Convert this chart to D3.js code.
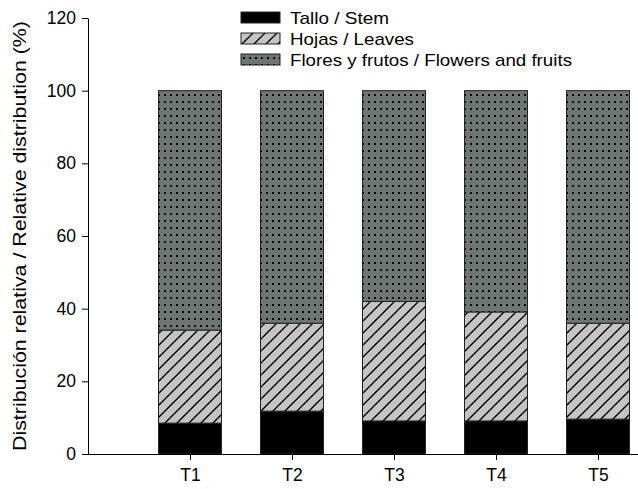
<!DOCTYPE html>
<html>
<head>
<meta charset="utf-8">
<script src="https://cdn.jsdelivr.net/npm/d3@7"></script>
<style>
  body { margin: 0; background: #fff; }
  svg { font-family: "Liberation Sans", Arial, sans-serif; }
</style>
</head>
<body>
<svg id="chart" width="638" height="489"></svg>
<script>
// data (percent)
const treatments = ["T1", "T2", "T3", "T4", "T5"];
const stem = [8.5, 11.8, 9.1, 9.1, 9.6];
const leaves = [25.6, 24.2, 32.9, 30.0, 26.4];
const flowers = [65.9, 64.0, 58.0, 60.9, 64.0];
const yTicks = [0, 20, 40, 60, 80, 100, 120];
const seriesNames = ["Tallo / Stem", "Hojas / Leaves", "Flores y frutos / Flowers and fruits"];

const svg = d3.select("#chart");

// patterns
const defs = svg.append("defs");
const hatch = defs.append("pattern")
    .attr("id", "hatch")
    .attr("patternUnits", "userSpaceOnUse")
    .attr("width", 12).attr("height", 12);
hatch.append("rect").attr("width", 12).attr("height", 12).attr("fill", "#c4c4c4");
hatch.append("path")
    .attr("d", "M-3,3 L3,-3 M0,12 L12,0 M9,15 L15,9")
    .attr("stroke", "#000").attr("stroke-width", 1.4);

const dots = defs.append("pattern")
    .attr("id", "dots")
    .attr("patternUnits", "userSpaceOnUse")
    .attr("width", 6).attr("height", 7);
dots.append("rect").attr("width", 6).attr("height", 7).attr("fill", "#6f7573");
dots.append("rect").attr("x", 2).attr("y", 3).attr("width", 2).attr("height", 2).attr("fill", "#000");

const fills = ["#000", "url(#hatch)", "url(#dots)"];

// scales
const y = d3.scaleLinear().domain([0, 120]).range([454, 18]);
const x = d3.scaleLinear().domain([0, 1]).range([88, 190]);
const barW = 63;

// stacked data
const rows = treatments.map((t, i) => ({ t: t, i: i, stem: stem[i], leaves: leaves[i], flowers: flowers[i] }));
const stack = d3.stack().keys(["stem", "leaves", "flowers"])(rows);

svg.append("g")
  .selectAll("g")
  .data(stack)
  .join("g")
    .attr("fill", (d, k) => fills[k])
  .selectAll("rect")
  .data(d => d)
  .join("rect")
    .attr("x", d => x(d.data.i + 1) - barW / 2)
    .attr("y", d => y(d[1]))
    .attr("width", barW)
    .attr("height", d => y(d[0]) - y(d[1]))
    .attr("stroke", "#222")
    .attr("stroke-width", 1);

// axes
const yAxis = svg.append("g")
    .attr("transform", "translate(88,0)")
    .call(d3.axisLeft(y).tickValues(yTicks).tickSize(6).tickPadding(6).tickSizeOuter(0));
yAxis.selectAll("text").attr("font-size", 17.5).attr("fill", "#000");

const xAxis = svg.append("g")
    .attr("transform", "translate(0,454)")
    .call(d3.axisBottom(x).tickValues([1, 2, 3, 4, 5])
        .tickFormat(d => treatments[d - 1]).tickSize(6).tickPadding(9).tickSizeOuter(0));
xAxis.select(".domain").attr("d", "M88,0.5H638");
xAxis.selectAll("text").attr("font-size", 17.5).attr("fill", "#000");

svg.selectAll(".domain, .tick line").attr("stroke", "#000");

// y label
svg.append("text")
    .attr("transform", "translate(26,236) rotate(-90)")
    .attr("text-anchor", "middle")
    .attr("font-size", 18.5)
    .attr("textLength", 430)
    .attr("lengthAdjust", "spacingAndGlyphs")
    .text("Distribución relativa / Relative distribution (%)");

// legend
const legendWidths = [99, 124, 282];
const legend = svg.append("g")
  .selectAll("g")
  .data(seriesNames)
  .join("g")
    .attr("transform", (d, k) => `translate(241,${12 + k * 21})`);
legend.append("rect")
    .attr("width", 39).attr("height", 11)
    .attr("fill", (d, k) => fills[k])
    .attr("stroke", "#222");
legend.append("text")
    .attr("x", 49).attr("y", 12)
    .attr("font-size", 17)
    .attr("textLength", (d, k) => legendWidths[k])
    .attr("lengthAdjust", "spacingAndGlyphs")
    .text(d => d);
</script>
</body>
</html>
